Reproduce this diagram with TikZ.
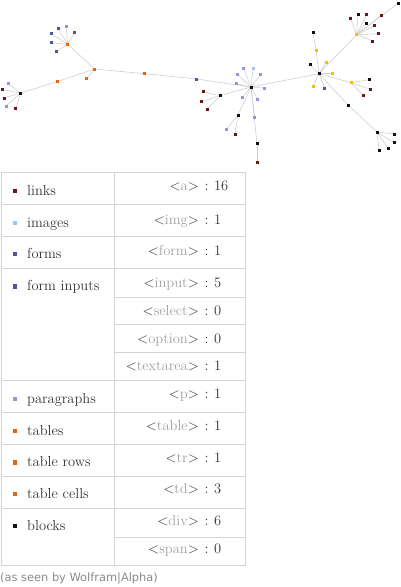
\documentclass[tikz,border=0pt]{standalone}
\usepackage{fontspec}
\newfontfamily\footfont{DejaVu Sans}
\definecolor{lnkc}{HTML}{6E1414}
\definecolor{blkc}{HTML}{1E0A14}
\definecolor{frmc}{HTML}{4B55A6}
\definecolor{parc}{HTML}{9C90D8}
\definecolor{imgc}{HTML}{A3C4EA}
\definecolor{tblc}{HTML}{E0680A}
\definecolor{yelc}{HTML}{F2C100}
\definecolor{edgec}{HTML}{CFCFCF}
\definecolor{gridc}{HTML}{D4D4D4}
\definecolor{txtc}{HTML}{333333}
\definecolor{tagc}{HTML}{A0A0A0}
\definecolor{footc}{HTML}{8A8A8A}
\pgfdeclarelayer{bg}
\pgfsetlayers{bg,main}
\newcommand\htag[1]{\textcolor{txtc}{\textless}\textcolor{tagc}{#1}\textcolor{txtc}{\textgreater}}
\tikzset{
  gn/.style={rectangle, minimum size=3pt, inner sep=0pt},
  lk/.style={gn, fill=lnkc}, bk/.style={gn, fill=blkc}, fm/.style={gn, fill=frmc},
  pa/.style={gn, fill=parc}, im/.style={gn, fill=imgc}, tb/.style={gn, fill=tblc},
  ye/.style={gn, fill=yelc},
  edge/.style={draw=edgec, line width=0.6pt},
  grid/.style={draw=gridc, line width=1pt},
  sq/.style={rectangle, minimum size=4.6pt, inner sep=0pt},
  lab/.style={anchor=base west, inner sep=0pt, text=txtc, font=\fontsize{14.5}{17}\selectfont},
  tagtx/.style={anchor=base east, inner sep=0pt, font=\fontsize{14.5}{17}\selectfont},
  numtx/.style={anchor=base west, inner sep=0pt, text=txtc, font=\fontsize{14.5}{17}\selectfont},
}
\begin{document}
\begin{tikzpicture}[x=1pt,y=-1pt]
\useasboundingbox (0,0) rectangle (400,587);
% ---- graph nodes ----
\node[tb] (A) at (67.7,44.3) {};
\node[fm] (a1) at (51,33.7) {};
\node[fm] (a2) at (58,28.7) {};
\node[pa] (a3) at (66,26.7) {};
\node[fm] (a4) at (74.7,32) {};
\node[fm] (a5) at (51,42.7) {};
\node[fm] (a6) at (56,51.7) {};
\node[tb] (B) at (94.7,69) {};
\node[tb] (b1) at (86.7,78.7) {};
\node[tb] (O1) at (57,81.7) {};
\node[bk] (C) at (20.7,93) {};
\node[pa] (c1) at (8,83.7) {};
\node[lk] (c2) at (2.2,89.7) {};
\node[lk] (c3) at (4,98) {};
\node[pa] (c4) at (6,106) {};
\node[lk] (c5) at (15.7,108.7) {};
\node[tb] (M) at (144.7,73.7) {};
\node[fm] (N) at (196.7,79) {};
\node[bk] (D) at (251,87) {};
\node[pa] (d1) at (237.7,74.7) {};
\node[pa] (d2) at (243.7,68.7) {};
\node[im] (d3) at (253,68.7) {};
\node[pa] (d4) at (260.7,74.7) {};
\node[pa] (d5) at (264.7,88) {};
\node[pa] (d6) at (257.7,99.7) {};
\node[pa] (d7) at (242.7,97) {};
\node[pa] (d8) at (236,83.7) {};
\node[bk] (E) at (220,95.7) {};
\node[lk] (e1) at (203,91.7) {};
\node[lk] (e2) at (201,101.7) {};
\node[lk] (e3) at (207,109.7) {};
\node[bk] (F) at (238,115) {};
\node[pa] (f1) at (226,129.7) {};
\node[lk] (f2) at (235,134) {};
\node[pa] (P) at (254.7,117.7) {};
\node[bk] (G) at (257,143.7) {};
\node[lk] (g1) at (257,162.7) {};
\node[bk] (H) at (319,73.7) {};
\node[bk] (h1) at (310,64.7) {};
\node[ye] (h2) at (326.7,62) {};
\node[ye] (h3) at (332,73.7) {};
\node[ye] (h4) at (313,86) {};
\node[fm] (h5) at (324.7,88) {};
\node[ye] (Y) at (316,50) {};
\node[bk] (y1) at (313,32.7) {};
\node[ye] (I) at (356.7,34.7) {};
\node[lk] (i1) at (350.7,18.7) {};
\node[bk] (i2) at (358,14.7) {};
\node[lk] (i3) at (366.7,14.7) {};
\node[bk] (i4) at (366.7,23) {};
\node[lk] (i5) at (381,15.7) {};
\node[lk] (i6) at (374.7,25.7) {};
\node[lk] (i7) at (378.7,33.7) {};
\node[lk] (i8) at (372.7,41) {};
\node[bk] (i9) at (398.3,3) {};
\node[ye] (J) at (351,82.7) {};
\node[bk] (j1) at (369,79.7) {};
\node[lk] (j2) at (370,89) {};
\node[lk] (j3) at (363.7,95.7) {};
\node[bk] (K) at (348,105) {};
\node[bk] (L) at (377,132) {};
\node[bk] (l1) at (394.7,134) {};
\node[bk] (l2) at (394,142.7) {};
\node[bk] (l3) at (388.3,148.7) {};
\node[bk] (l4) at (379,150) {};
% ---- graph edges ----
\begin{pgfonlayer}{bg}
\foreach \n in {a1,a2,a3,a4,a5,a6,B} \draw[edge] (A.center) -- (\n.center);
\foreach \n in {b1,O1,M} \draw[edge] (B.center) -- (\n.center);
\draw[edge] (O1.center) -- (C.center);
\foreach \n in {c1,c2,c3,c4,c5} \draw[edge] (C.center) -- (\n.center);
\draw[edge] (M.center) -- (N.center);
\draw[edge] (N.center) -- (D.center);
\foreach \n in {d1,d2,d3,d4,d5,d6,d7,d8,E,F,P,G,H} \draw[edge] (D.center) -- (\n.center);
\foreach \n in {e1,e2,e3} \draw[edge] (E.center) -- (\n.center);
\foreach \n in {f1,f2} \draw[edge] (F.center) -- (\n.center);
\draw[edge] (G.center) -- (g1.center);
\foreach \n in {h1,h2,h3,h4,h5,Y,I,J,K} \draw[edge] (H.center) -- (\n.center);
\draw[edge] (Y.center) -- (y1.center);
\foreach \n in {i1,i2,i3,i4,i5,i6,i7,i8,i9} \draw[edge] (I.center) -- (\n.center);
\foreach \n in {j1,j2,j3} \draw[edge] (J.center) -- (\n.center);
\draw[edge] (K.center) -- (L.center);
\foreach \n in {l1,l2,l3,l4} \draw[edge] (L.center) -- (\n.center);
\end{pgfonlayer}
% ---- table grid ----
\draw[grid] (1,172) rectangle (245,565);
\draw[grid] (114.5,172) -- (114.5,565);
\foreach \y in {204,236,268,380,412,444,476,508} \draw[grid] (1,\y) -- (245,\y);
\foreach \y in {297,324,352,537} \draw[grid] (114.5,\y) -- (245,\y);
% ---- left labels ----
\node[sq, fill=lnkc] (s1) at (15,190.8) {};
\node[lab] (t1) at (27,195) {links};
\node[sq, fill=imgc] (s2) at (15,222.8) {};
\node[lab] (t2) at (27,227) {images};
\node[sq, fill=frmc] (s3) at (15,254) {};
\node[lab] (t3) at (27,258.2) {forms};
\node[sq, fill=frmc] (s4) at (15,286.5) {};
\node[lab] (t4) at (27,290.7) {form inputs};
\node[sq, fill=parc] (s5) at (15,398.8) {};
\node[lab] (t5) at (27,403) {paragraphs};
\node[sq, fill=tblc] (s6) at (15,430.8) {};
\node[lab] (t6) at (27,435) {tables};
\node[sq, fill=tblc] (s7) at (15,462.5) {};
\node[lab] (t7) at (27,466.7) {table rows};
\node[sq, fill=tblc] (s8) at (15,494) {};
\node[lab] (t8) at (27,498.3) {table cells};
\node[sq, fill=blkc] (s9) at (15,525.8) {};
\node[lab] (t9) at (27,530) {blocks};
% ---- right tags ----
\foreach \nm/\tx/\num/\yy in {ua/a/16/190, ub/img/1/224, uc/form/1/255.5, ud/input/5/287,
  ue/select/0/315, uf/option/0/343, ug/textarea/1/370, uh/p/1/398, ui/table/1/430.5,
  uj/tr/1/462, uk/td/3/493, ul/div/6/525, um/span/0/553}{
  \node[tagtx] (\nm) at (199,\yy) {\htag{\tx}};
  \node[numtx] (\nm n) at (204.5,\yy) {:\hspace{5.5pt}\num};
}
% ---- footer ----
\node[anchor=base west, inner sep=0pt, text=footc, font=\footfont\fontsize{11.4}{13}\selectfont] (foot) at (0,581) {(as seen by Wolfram|Alpha)};
\end{tikzpicture}
\end{document}
